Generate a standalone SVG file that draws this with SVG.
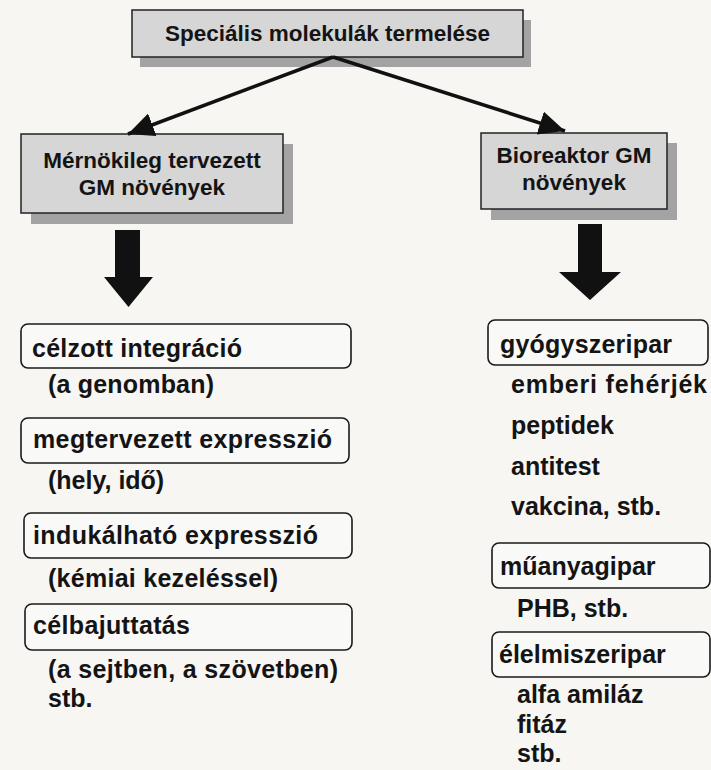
<svg xmlns="http://www.w3.org/2000/svg" width="711" height="770" viewBox="0 0 711 770">
<style>
  .bg{fill:#f7f6f3}
  .gbox{fill:#d6d6d6;stroke:#222;stroke-width:1.5}
  .shadow{fill:#a3a3a3}
  .rbox{fill:#f9f9f7;stroke:#1a1a1a;stroke-width:1.6}
  .t{font-family:"Liberation Sans",Arial,Helvetica,sans-serif;font-weight:bold;fill:#141414}
  .title{font-size:22.5px}
  .item{font-size:25px}
  .conn{stroke:#111;stroke-width:3.5;fill:none}
  .fat{fill:#111}
</style>
<defs>
  <marker id="ah" markerUnits="userSpaceOnUse" markerWidth="30" markerHeight="26" refX="26" refY="12" orient="auto">
    <path d="M0,0 L26,12 L0,24 Z" fill="#111"/>
  </marker>
</defs>
<rect class="bg" x="0" y="0" width="711" height="770"/>

<g id="node-top">
  <rect class="shadow" x="140" y="20" width="391" height="47"/>
  <rect class="gbox" x="132" y="10" width="391" height="47"/>
  <text class="t title" x="327.5" y="41" text-anchor="middle">Speciális molekulák termelése</text>
</g>

<g id="node-left">
  <rect class="shadow" x="31" y="144" width="262" height="80"/>
  <rect class="gbox" x="21" y="134" width="262" height="79"/>
  <text class="t title" x="152" y="168" text-anchor="middle">Mérnökileg tervezett</text>
  <text class="t title" x="152" y="195" text-anchor="middle">GM növények</text>
</g>

<g id="node-right">
  <rect class="shadow" x="491" y="143" width="186" height="77"/>
  <rect class="gbox" x="481" y="133" width="186" height="76"/>
  <text class="t title" x="574" y="163" text-anchor="middle">Bioreaktor GM</text>
  <text class="t title" x="574" y="190" text-anchor="middle">növények</text>
</g>

<g id="connectors">
  <line class="conn" x1="333" y1="57" x2="128" y2="134" marker-end="url(#ah)"/>
  <line class="conn" x1="333" y1="57" x2="565" y2="131" marker-end="url(#ah)"/>
  <path class="fat" d="M115,230 H140 V277 H153 L128.5,307 L104,277 H115 Z"/>
  <path class="fat" d="M578,224 H602 V272 H621 L590,300 L559,272 H578 Z"/>
</g>

<g id="left-list">
  <g id="n-celzott">
    <rect class="rbox" x="21" y="324" width="330" height="44" rx="7"/>
    <text class="t item" x="32" y="357" textLength="210">célzott integráció</text>
    <text class="t item" x="48" y="393" textLength="166">(a genomban)</text>
  </g>
  <g id="n-megtervezett">
    <rect class="rbox" x="21" y="418" width="328" height="45" rx="7"/>
    <text class="t item" x="33" y="448" textLength="299">megtervezett expresszió</text>
    <text class="t item" x="48" y="489">(hely, idő)</text>
  </g>
  <g id="n-indukalhato">
    <rect class="rbox" x="24" y="513" width="328" height="45" rx="7"/>
    <text class="t item" x="33" y="544" textLength="285">indukálható expresszió</text>
    <text class="t item" x="48" y="587" textLength="230">(kémiai kezeléssel)</text>
  </g>
  <g id="n-celbajuttatas">
    <rect class="rbox" x="25" y="604" width="327" height="46" rx="7"/>
    <text class="t item" x="33" y="634" textLength="157">célbajuttatás</text>
    <text class="t item" x="48" y="678" textLength="290">(a sejtben, a szövetben)</text>
    <text class="t item" x="48" y="707">stb.</text>
  </g>
</g>

<g id="right-list">
  <g id="n-gyogyszeripar">
    <rect class="rbox" x="488" y="320" width="220" height="45" rx="7"/>
    <text class="t item" x="500" y="353" textLength="172">gyógyszeripar</text>
    <text class="t item" x="511" y="393" textLength="196">emberi fehérjék</text>
    <text class="t item" x="511" y="434">peptidek</text>
    <text class="t item" x="511" y="475">antitest</text>
    <text class="t item" x="511" y="515">vakcina, stb.</text>
  </g>
  <g id="n-muanyagipar">
    <rect class="rbox" x="492" y="543" width="218" height="45" rx="7"/>
    <text class="t item" x="500" y="575">műanyagipar</text>
    <text class="t item" x="517" y="617">PHB, stb.</text>
  </g>
  <g id="n-elelmiszeripar">
    <rect class="rbox" x="492" y="632" width="218" height="45" rx="7"/>
    <text class="t item" x="499" y="663">élelmiszeripar</text>
    <text class="t item" x="517" y="703">alfa amiláz</text>
    <text class="t item" x="517" y="733">fitáz</text>
    <text class="t item" x="517" y="762">stb.</text>
  </g>
</g>
</svg>
